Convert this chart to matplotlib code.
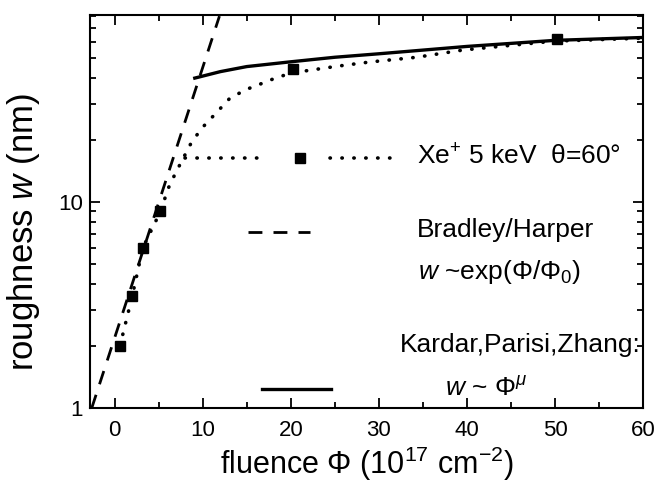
import matplotlib
matplotlib.use("Agg")
import matplotlib.pyplot as plt

plt.rcParams['font.family'] = ['Liberation Sans', 'DejaVu Sans']
plt.rcParams['mathtext.fontset'] = 'custom'
plt.rcParams['mathtext.rm'] = 'Liberation Sans'
plt.rcParams['mathtext.it'] = 'Liberation Sans:italic'

# measured data (Xe+ 5 keV, theta=60 deg)
data_x = [0.6, 2.0, 3.2, 5.2, 20.3, 50.2]
data_w = [2.0, 3.5, 6.0, 9.0, 44.2, 61.8]

# dotted guide through data
dot_x = [0.6, 2.0, 3.2, 5.2, 6.1, 6.9, 8.75, 10.0, 11.6, 13.1, 15.0, 16.8, 18.5, 20.3,
         25.3, 29.0, 34.3, 39.5, 43.0, 50.0, 60.0]
dot_w = [2.0, 3.5, 6.0, 9.0, 11.7, 13.8, 19.6, 23.1, 27.3, 32.0, 35.3, 37.8, 40.4, 42.5,
         45.7, 47.9, 50.5, 54.7, 56.6, 60.5, 62.5]

# Bradley/Harper exponential (straight on log axis)
bh_x = [-2.6, 11.9]
bh_w = [1.0, 80.0]

# KPZ power law
kpz_x = [9.1, 12.0, 15.0, 20.0, 25.0, 30.0, 40.0, 50.0, 60.0]
kpz_w = [40.0, 43.0, 45.5, 48.0, 50.5, 52.5, 57.0, 61.0, 63.0]

xticks = [0, 10, 20, 30, 40, 50, 60]
xminor = [5, 15, 25, 35, 45, 55]

fig = plt.figure(figsize=(6.55, 4.82), dpi=100)
ax = fig.add_axes([90/655, 1-408/482, 553/655, 393/482])

ax.plot(bh_x, bh_w, color='black', lw=2.0, ls=(0, (5, 4)))
ax.plot(kpz_x, kpz_w, color='black', lw=2.4, ls='-')
ax.plot(dot_x, dot_w, color='black', lw=2.6, ls=(0, (0.1, 3.2)), dash_capstyle='round')
ax.plot(data_x, data_w, ls='none', marker='s', ms=6.5, color='black')

ax.set_yscale('log')
ax.set_xticks(xticks)
ax.set_xticks(xminor, minor=True)
ax.set_yticks([1, 10])
ax.set_yticklabels(['1', '10'])
ax.set_xlim(-2.8, 60)
ax.set_ylim(1, 81)
ax.tick_params(which='both', direction='in', top=True, right=True, labelsize=16, width=1.3)
ax.tick_params(which='major', length=7)
ax.tick_params(which='minor', length=4)
ax.tick_params(axis='x', pad=9)
ax.tick_params(axis='y', pad=5)
for s in ax.spines.values():
    s.set_linewidth(1.5)

ax.set_xlabel(r'fluence $\Phi$ (10$^{17}$ cm$^{-2}$)', fontsize=22, labelpad=2)
ax.set_ylabel(r'roughness $\it{w}$ (nm)', fontsize=25)
ax.yaxis.set_label_coords(-0.087, 0.448)

T = ax.transAxes
# legend: dotted + data
ax.plot([0.172, 0.311], [0.636, 0.636], transform=T, color='black', lw=2.6,
        ls=(0, (0.1, 3.2)), dash_capstyle='round')
ax.plot([0.380], [0.636], transform=T, marker='s', ms=6.5, color='black', ls='none')
ax.plot([0.434, 0.561], [0.636, 0.636], transform=T, color='black', lw=2.6,
        ls=(0, (0.1, 3.2)), dash_capstyle='round')
ax.text(0.591, 0.640, r'Xe$^{+}$ 5 keV  θ=60°', transform=T, fontsize=19, va='center', ha='left')
# dashed
ax.plot([0.286, 0.398], [0.448, 0.448], transform=T, color='black', lw=2.0, ls=(0, (5, 4)))
ax.text(0.752, 0.453, 'Bradley/Harper', transform=T, fontsize=19, va='center', ha='center')
ax.text(0.74, 0.346, r'$\it{w}$ ~exp($\Phi$/$\Phi_0$)', transform=T, fontsize=19, va='center', ha='center')
# solid
ax.plot([0.311, 0.436], [0.048, 0.048], transform=T, color='black', lw=2.4)
ax.text(0.561, 0.160, 'Kardar,Parisi,Zhang:', transform=T, fontsize=19, va='center', ha='left')
ax.text(0.716, 0.05, r'$\it{w}$ ~ $\Phi^{\mu}$', transform=T, fontsize=19, va='center', ha='center')

fig.savefig('out.png', dpi=100)
